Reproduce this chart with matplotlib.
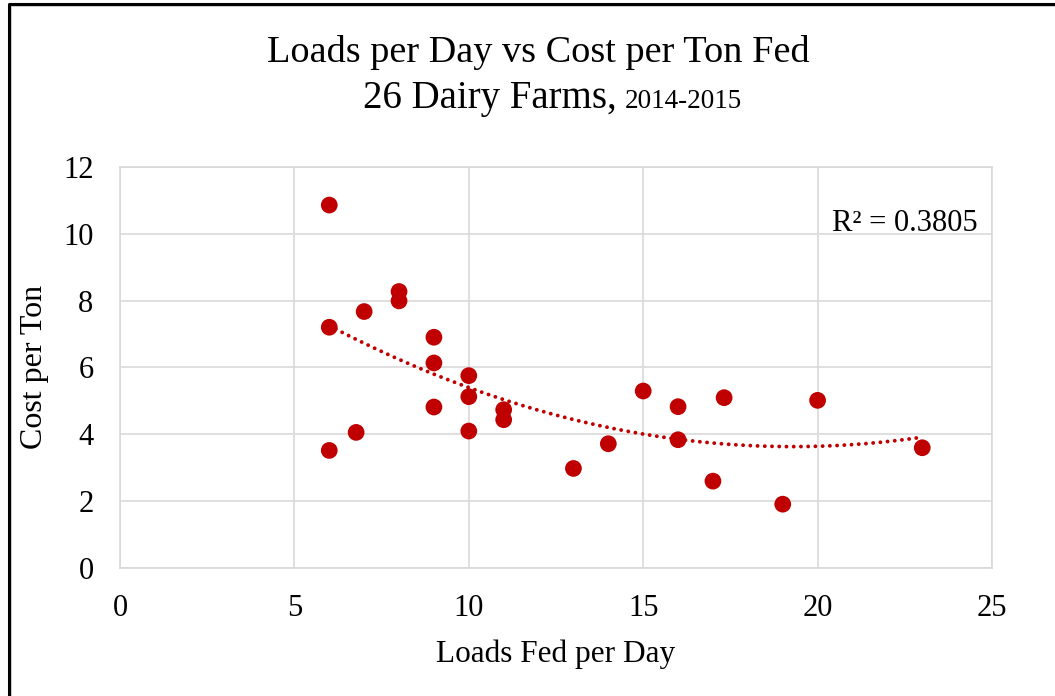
import numpy as np
import matplotlib.pyplot as plt
from matplotlib.lines import Line2D

plt.rcParams.update({
    "font.family": ["Liberation Serif", "DejaVu Serif"],
})

# loads fed per day vs cost per ton
vecLoads = [6, 6, 6, 7, 6.77, 8, 8, 9, 9, 9, 10, 10, 10, 11, 11,
            13, 14, 15, 16, 16, 17, 17.32, 19, 20, 23]
vecCost = [10.86, 7.20, 3.51, 7.67, 4.05, 8.27, 7.99, 6.90, 6.13, 4.81,
           5.75, 5.12, 4.09, 4.73, 4.43, 2.97, 3.71, 5.29, 4.82, 3.83,
           2.59, 5.09, 1.90, 5.01, 3.59]
strR2 = "R\u00b2 = 0.3805"
vecXTicks = [0, 5, 10, 15, 20, 25]
vecYTicks = [0, 2, 4, 6, 8, 10, 12]

colRed = "#C00000"
colGrid = "#D9D9D9"
W, H = 1055, 696

fig = plt.figure(figsize=(W/100, H/100), dpi=100)
ax = fig.add_axes([120/W, 1 - 567.6/H, 872/W, 400.6/H])

# polynomial (order 2) trendline like excel
vecCoef = np.polyfit(vecLoads, vecCost, 2)
vecXFit = np.linspace(min(vecLoads), max(vecLoads), 200)
ax.plot(vecXFit, np.polyval(vecCoef, vecXFit), color=colRed, linewidth=2.8,
        linestyle=(0, (0.01, 1.85)), dash_capstyle="round", zorder=2)

ax.scatter(vecLoads, vecCost, s=145, color=colRed, edgecolors="none", zorder=3)

ax.set_xlim(0, 25)
ax.set_ylim(0, 12)
ax.set_xticks(vecXTicks)
ax.set_yticks(vecYTicks)
ax.grid(True, color=colGrid, linewidth=1.2)
ax.set_axisbelow(True)
for s in ax.spines.values():
    s.set_color(colGrid)
    s.set_linewidth(1.2)
ax.tick_params(length=0, labelsize=22, pad=19)

ax.set_xlabel("Loads Fed per Day", fontsize=22.5, labelpad=12)
ax.set_ylabel("Cost per Ton", fontsize=23, labelpad=10)

ax.text(20.4, 10.07, strR2, fontsize=22, va="baseline", ha="left")

fig.text(538/W, 1 - 61.5/H, "Loads per Day vs Cost per Ton Fed",
         fontsize=27.5, ha="center", va="baseline")
fig.text(617/W, 1 - 108/H, "26 Dairy Farms,", fontsize=28,
         ha="right", va="baseline")
fig.text(625/W, 1 - 108/H, "2014-2015", fontsize=19.5,
         ha="left", va="baseline")

# frame around the picture (cropped at right and bottom)
fig.lines.append(Line2D([11/W, 11/W], [0, 1 - 6/H], transform=fig.transFigure,
                        color="#C8C8C8", linewidth=1.2))
fig.lines.append(Line2D([11/W, 1], [1 - 6/H, 1 - 6/H], transform=fig.transFigure,
                        color="#C8C8C8", linewidth=1.2))
fig.lines.append(Line2D([8.5/W, 8.5/W, 1], [0, 1 - 3.5/H, 1 - 3.5/H],
                        transform=fig.transFigure, color="black", linewidth=2.2))

plt.savefig("out.png", dpi=100)
plt.close(fig)
